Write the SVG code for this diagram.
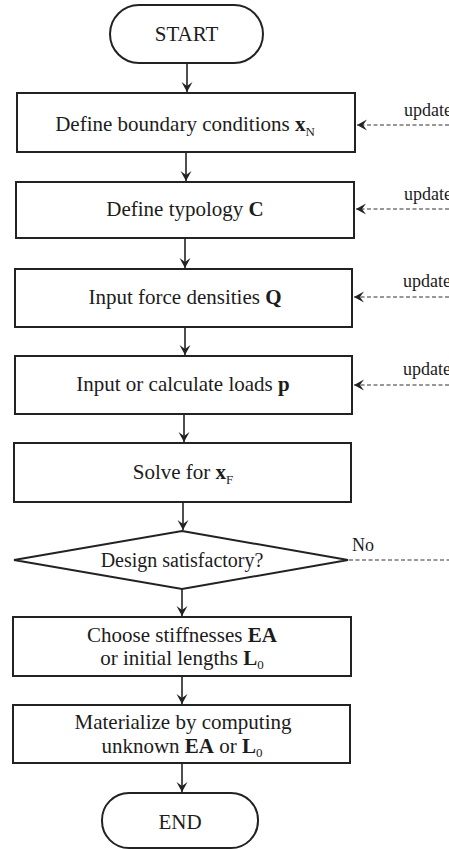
<svg xmlns="http://www.w3.org/2000/svg" width="449" height="849" viewBox="0 0 449 849" font-family="'Liberation Serif', 'DejaVu Serif', serif">
<style>
text{font-family:'Liberation Serif','DejaVu Serif',serif;fill:#1c1c1c;font-size:21px}
.t{text-anchor:middle}
.b{font-weight:bold}
.s{font-size:13px}
.u{font-size:18px}
.d{font-size:20px}
.node{fill:#fff;stroke:#222;stroke-width:2}
.flow{stroke:#222;stroke-width:1.6;fill:none}
.dash{stroke:#333;stroke-width:1.2;stroke-dasharray:4,2.5;fill:none}
</style>
<defs>
<marker id="ah" viewBox="-11 -6 12 12" refX="0" refY="0" markerWidth="12" markerHeight="12" markerUnits="userSpaceOnUse" orient="auto">
<path d="M-10,-5.5 L0,0 L-10,5.5 L-6,0 Z" fill="#222"/>
</marker>
</defs>
<g id="connectors">
<line class="flow" x1="187" y1="63" x2="187" y2="92" marker-end="url(#ah)"/>
<line class="flow" x1="186" y1="152" x2="186" y2="181" marker-end="url(#ah)"/>
<line class="flow" x1="185" y1="238" x2="185" y2="268" marker-end="url(#ah)"/>
<line class="flow" x1="185" y1="327" x2="185" y2="355" marker-end="url(#ah)"/>
<line class="flow" x1="184" y1="414" x2="184" y2="442" marker-end="url(#ah)"/>
<line class="flow" x1="183" y1="502" x2="183" y2="530" marker-end="url(#ah)"/>
<line class="flow" x1="182" y1="589" x2="182" y2="616" marker-end="url(#ah)"/>
<line class="flow" x1="182" y1="676" x2="182" y2="704" marker-end="url(#ah)"/>
<line class="flow" x1="182" y1="763" x2="182" y2="792" marker-end="url(#ah)"/>
<line class="dash" x1="449" y1="125" x2="357" y2="125" marker-end="url(#ah)"/>
<line class="dash" x1="449" y1="209" x2="356" y2="209" marker-end="url(#ah)"/>
<line class="dash" x1="449" y1="297" x2="354" y2="297" marker-end="url(#ah)"/>
<line class="dash" x1="449" y1="385" x2="354" y2="385" marker-end="url(#ah)"/>
<line class="dash" x1="349" y1="560" x2="449" y2="560"/>
<text class="u" x="404" y="116">update</text>
<text class="u" x="404" y="200">update</text>
<text class="u" x="403" y="287">update</text>
<text class="u" x="403" y="375">update</text>
<text class="u" x="352" y="551">No</text>
</g>
<g id="start">
<rect class="node" x="110" y="5" width="153" height="58" rx="29"/>
<text class="t" x="186.5" y="41">START</text>
</g>
<g id="boundary">
<rect class="node" x="17" y="93" width="338" height="59"/>
<text class="t" x="185" y="131">Define boundary conditions <tspan class="b">x</tspan><tspan class="s" dy="5">N</tspan></text>
</g>
<g id="typology">
<rect class="node" x="16" y="182" width="338" height="56"/>
<text class="t" x="185" y="216">Define typology <tspan class="b">C</tspan></text>
</g>
<g id="forcedensities">
<rect class="node" x="15" y="269" width="337" height="58"/>
<text class="t" x="185" y="304">Input force densities <tspan class="b">Q</tspan></text>
</g>
<g id="loads">
<rect class="node" x="15" y="356" width="337" height="58"/>
<text class="t" x="183" y="391">Input or calculate loads <tspan class="b">p</tspan></text>
</g>
<g id="solve">
<rect class="node" x="14" y="443" width="337" height="59"/>
<text class="t" x="183" y="479">Solve for <tspan class="b">x</tspan><tspan class="s" dy="5">F</tspan></text>
</g>
<g id="decision">
<polygon class="node" points="182,531 348,560 182,589 14,560"/>
<text class="t d" x="182" y="567">Design satisfactory?</text>
</g>
<g id="choose">
<rect class="node" x="13" y="617" width="338" height="59"/>
<text class="t" x="182" y="642">Choose stiffnesses <tspan class="b">EA</tspan></text>
<text class="t" x="182" y="665">or initial lengths <tspan class="b">L</tspan><tspan class="s" dy="4">0</tspan></text>
</g>
<g id="materialize">
<rect class="node" x="13" y="705" width="337" height="58"/>
<text class="t" x="183" y="729">Materialize by computing</text>
<text class="t" x="182" y="753">unknown <tspan class="b">EA</tspan> or <tspan class="b">L</tspan><tspan class="s" dy="4">0</tspan></text>
</g>
<g id="end">
<rect class="node" x="102" y="793" width="156" height="55" rx="27"/>
<text class="t" x="180" y="829">END</text>
</g>
</svg>
